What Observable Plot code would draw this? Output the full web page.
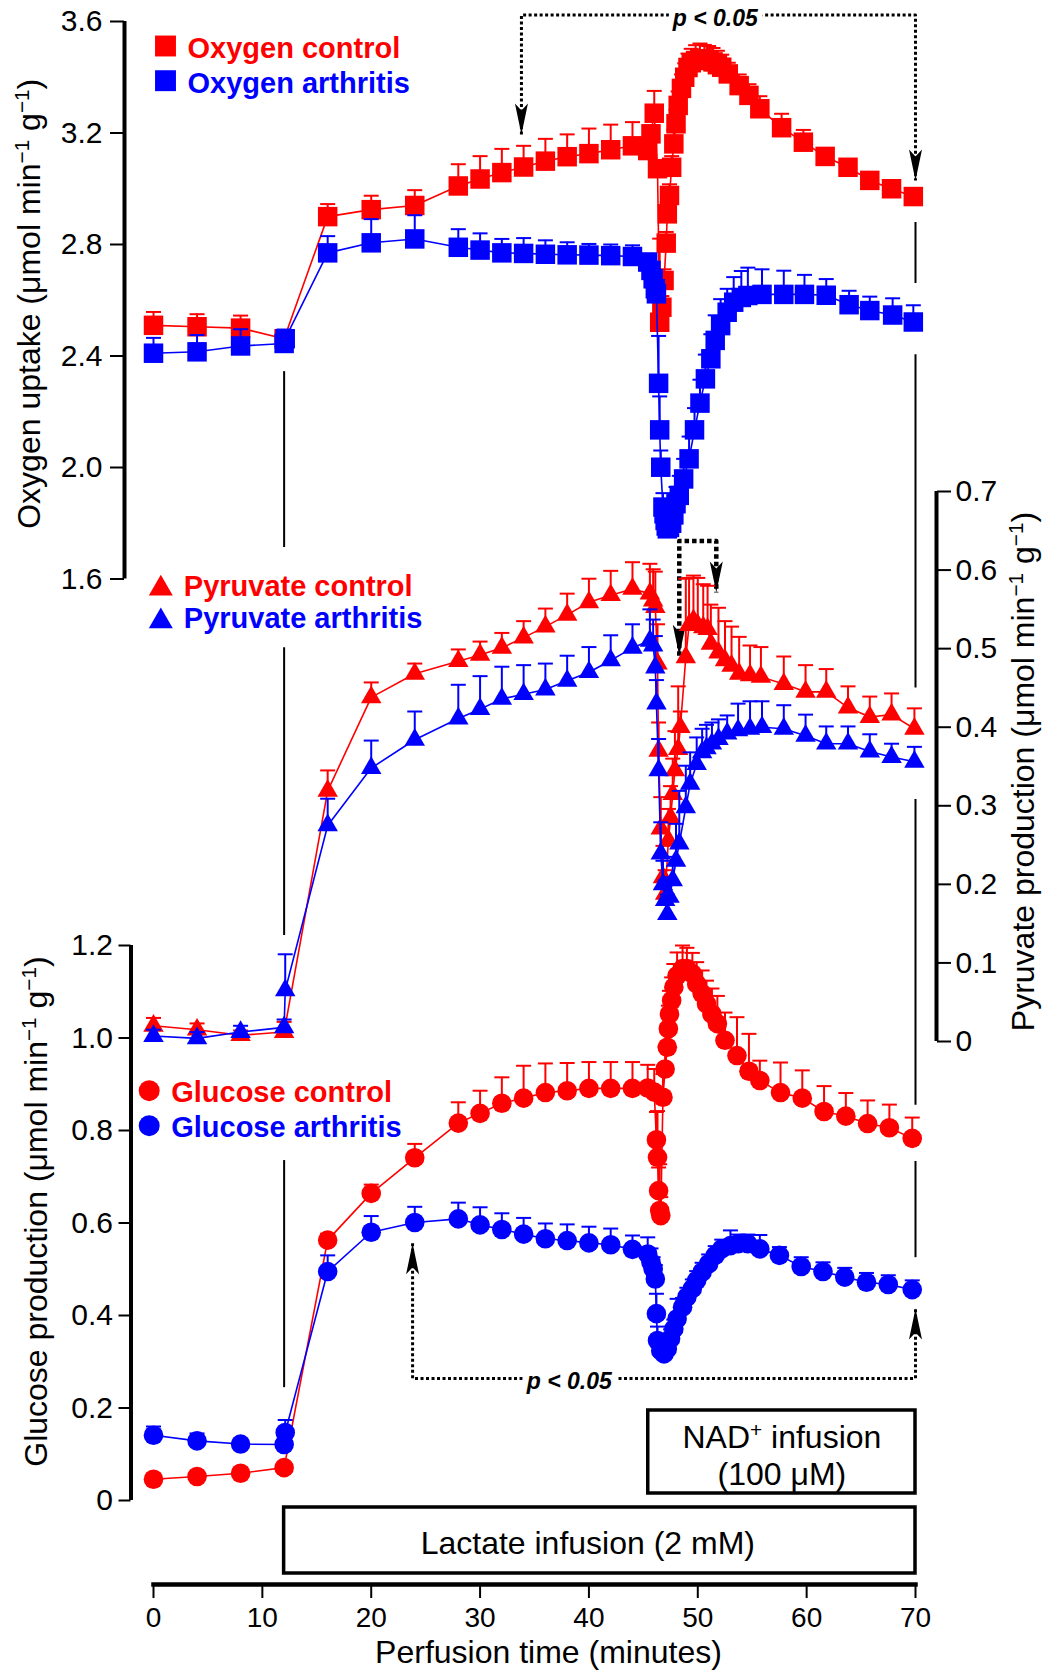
<!DOCTYPE html>
<html>
<head>
<meta charset="utf-8">
<script src="https://cdn.jsdelivr.net/npm/d3@7"></script>
<script src="https://cdn.jsdelivr.net/npm/@observablehq/plot@0.6"></script>
<style>
  html, body { margin: 0; padding: 0; background: #fff; }
  #chart { position: relative; width: 1042px; height: 1670px; overflow: hidden; background: #fff; }
  #chart svg { position: absolute; left: 0; top: 0; overflow: visible; }
</style>
</head>
<body>
<div id="chart"></div>
<script>
// ---------------- DATA ----------------
// Oxygen uptake (µmol min^-1 g^-1)
const o2ControlTime = [0,4,8,12,16,20,24,28,30,32,34,36,38,40,42,44,45.4,45.7,46.0,46.3,46.5,46.7,46.9,47.1,47.2,47.4,47.6,47.8,48.0,48.2,48.5,48.8,49.1,49.4,49.8,50.2,50.6,51.0,51.4,51.8,52.2,52.8,53.8,54.7,55.7,57.7,59.7,61.7,63.8,65.8,67.8,69.8];
const o2ControlValue = [2.510,2.505,2.500,2.462,2.900,2.925,2.940,3.010,3.035,3.058,3.078,3.099,3.115,3.126,3.140,3.154,3.137,3.197,3.271,3.072,2.521,2.575,2.671,2.805,2.910,2.976,3.077,3.161,3.233,3.299,3.360,3.400,3.435,3.452,3.460,3.466,3.466,3.462,3.455,3.445,3.436,3.412,3.370,3.335,3.287,3.219,3.167,3.116,3.077,3.030,3.000,2.972];
const o2ControlErr = [0.048,0.045,0.045,0.03,0.045,0.05,0.055,0.078,0.082,0.085,0.076,0.08,0.08,0.09,0.09,0.085,0.03,0.03,0.08,0.03,0.30,0.04,0.04,0.04,0.04,0.04,0.04,0.05,0.05,0.05,0.05,0.05,0.05,0.05,0.055,0.055,0.05,0.05,0.05,0.05,0.045,0.04,0.04,0.04,0.045,0.05,0.044,0.02,0.015,0.01,0.01,0.01];

const o2ArthritisTime = [0,4,8,12,12.1,16,20,24,28,30,32,34,36,38,40,42,44,45.4,45.7,45.9,46.1,46.2,46.4,46.5,46.6,46.8,46.9,47.0,47.1,47.2,47.4,47.6,47.8,48.0,48.3,48.7,49.2,49.7,50.2,50.7,51.2,51.6,52.1,52.7,53.3,54.0,54.6,55.9,57.9,59.8,61.8,63.9,65.8,67.9,69.8];
const o2ArthritisValue = [2.410,2.415,2.436,2.445,2.462,2.770,2.806,2.820,2.790,2.780,2.770,2.768,2.765,2.763,2.762,2.760,2.757,2.737,2.707,2.677,2.641,2.623,2.302,2.135,2.001,1.858,1.834,1.810,1.790,1.780,1.785,1.800,1.830,1.870,1.900,1.959,2.031,2.135,2.231,2.318,2.390,2.456,2.509,2.557,2.593,2.610,2.617,2.621,2.621,2.621,2.618,2.584,2.563,2.547,2.522];
const o2ArthritisErr = [0.055,0.06,0.06,0.05,0.03,0.06,0.085,0.085,0.065,0.06,0.05,0.055,0.05,0.045,0.04,0.04,0.04,0.03,0.03,0.03,0.03,0.04,0.17,0.12,0.06,0.05,0.04,0.04,0.04,0.04,0.04,0.04,0.05,0.06,0.07,0.072,0.08,0.078,0.084,0.087,0.088,0.09,0.095,0.084,0.09,0.095,0.1,0.09,0.085,0.07,0.058,0.05,0.05,0.06,0.06];

// Pyruvate production (µmol min^-1 g^-1)
const pyrControlTime = [0,4,8,12,16,20,24,28,30,32,34,36,38,40,42,44,45.6,45.9,46.1,46.3,46.4,46.6,46.8,47.0,47.3,47.5,47.7,47.9,48.2,48.4,48.9,49.2,49.6,50.0,50.5,50.9,51.2,51.9,52.5,53.1,53.8,54.8,55.8,57.9,59.9,61.8,63.8,65.8,67.8,69.9];
const pyrControlValue = [0.020,0.015,0.008,0.012,0.319,0.438,0.468,0.484,0.492,0.501,0.514,0.528,0.543,0.559,0.568,0.576,0.570,0.561,0.553,0.481,0.370,0.271,0.209,0.188,0.256,0.285,0.315,0.345,0.372,0.400,0.489,0.530,0.536,0.530,0.527,0.525,0.506,0.495,0.485,0.478,0.468,0.466,0.464,0.455,0.445,0.445,0.425,0.413,0.416,0.398];
const pyrControlErr = [0.01,0.008,0.006,0.013,0.026,0.019,0.013,0.015,0.017,0.019,0.021,0.023,0.027,0.030,0.031,0.034,0.038,0.04,0.045,0.05,0.036,0.04,0.04,0.03,0.04,0.04,0.045,0.05,0.08,0.02,0.10,0.06,0.057,0.06,0.055,0.055,0.05,0.057,0.05,0.05,0.047,0.038,0.038,0.035,0.034,0.029,0.027,0.026,0.027,0.026];

const pyrArthritisTime = [0,4,8,12,12.1,16,20,24,28,30,32,34,36,38,40,42,44,45.6,45.9,46.1,46.2,46.4,46.6,46.8,47.0,47.2,47.4,47.7,48.0,48.3,48.9,49.3,49.9,50.4,50.8,51.3,51.9,52.7,53.7,54.8,55.9,57.9,59.9,61.8,63.8,65.8,67.8,69.9];
const pyrArthritisValue = [0.007,0.004,0.012,0.018,0.065,0.275,0.348,0.384,0.411,0.423,0.436,0.442,0.448,0.459,0.470,0.485,0.501,0.510,0.504,0.476,0.430,0.345,0.239,0.200,0.180,0.162,0.184,0.205,0.230,0.252,0.298,0.328,0.353,0.368,0.373,0.379,0.385,0.392,0.396,0.398,0.400,0.398,0.389,0.379,0.379,0.369,0.362,0.356];
const pyrArthritisErr = [0.008,0.008,0.008,0.01,0.046,0.034,0.035,0.036,0.043,0.042,0.041,0.037,0.033,0.032,0.032,0.032,0.030,0.04,0.033,0.04,0.03,0.04,0.04,0.03,0.025,0.025,0.025,0.03,0.047,0.067,0.053,0.04,0.034,0.03,0.03,0.027,0.025,0.023,0.034,0.035,0.033,0.03,0.027,0.022,0.022,0.022,0.017,0.019];

// Glucose production (µmol min^-1 g^-1)
const gluControlTime = [0,4,8,12,16,20,24,28,30,32,34,36,38,40,42,44,45.4,46.0,46.2,46.3,46.4,46.5,46.6,46.8,47.0,47.2,47.3,47.4,47.6,47.8,48.1,48.6,49.0,49.5,49.9,50.4,50.8,51.3,51.8,52.5,53.6,54.7,55.7,57.6,59.6,61.6,63.6,65.6,67.6,69.7];
const gluControlValue = [0.046,0.052,0.059,0.071,0.563,0.664,0.741,0.816,0.837,0.859,0.870,0.882,0.886,0.891,0.891,0.891,0.892,0.883,0.780,0.742,0.670,0.627,0.616,0.872,0.933,0.980,1.020,1.052,1.081,1.110,1.135,1.150,1.150,1.139,1.117,1.096,1.074,1.052,1.031,0.995,0.962,0.928,0.908,0.882,0.870,0.841,0.831,0.815,0.806,0.783];
const gluControlErr = [0.006,0.006,0.006,0.008,0.014,0.019,0.03,0.045,0.049,0.056,0.07,0.063,0.06,0.057,0.057,0.057,0.05,0.05,0.06,0.1,0.05,0.1,0.04,0.05,0.05,0.05,0.05,0.05,0.05,0.05,0.05,0.05,0.045,0.045,0.047,0.05,0.05,0.055,0.06,0.06,0.083,0.081,0.043,0.065,0.06,0.055,0.05,0.05,0.05,0.045];

const gluArthritisTime = [0,4,8,12,12.1,16,20,24,28,30,32,34,36,38,40,42,44,45.4,45.7,45.9,46.1,46.2,46.3,46.6,46.9,47.2,47.5,47.8,48.1,48.6,49.0,49.5,49.9,50.4,51.0,51.6,52.2,53.0,53.7,54.6,55.7,57.5,59.5,61.5,63.5,65.5,67.5,69.7];
const gluArthritisValue = [0.141,0.129,0.122,0.121,0.147,0.495,0.580,0.601,0.609,0.596,0.586,0.576,0.566,0.562,0.557,0.553,0.543,0.533,0.515,0.501,0.479,0.404,0.346,0.324,0.317,0.328,0.350,0.371,0.393,0.418,0.440,0.458,0.476,0.494,0.512,0.530,0.544,0.551,0.555,0.555,0.544,0.530,0.506,0.495,0.483,0.472,0.467,0.456];
const gluArthritisErr = [0.019,0.016,0.01,0.01,0.027,0.035,0.035,0.034,0.035,0.038,0.035,0.035,0.033,0.035,0.035,0.035,0.03,0.036,0.03,0.025,0.03,0.043,0.03,0.02,0.02,0.02,0.02,0.02,0.043,0.02,0.02,0.02,0.02,0.02,0.02,0.02,0.02,0.033,0.02,0.02,0.03,0.018,0.02,0.02,0.02,0.02,0.02,0.02];

// Axes ticks
const xTicks = [0,10,20,30,40,50,60,70];
const o2Ticks = [1.6,2.0,2.4,2.8,3.2,3.6];
const pyrTicks = [0,0.1,0.2,0.3,0.4,0.5,0.6,0.7];
const gluTicks = [0,0.2,0.4,0.6,0.8,1.0,1.2];

// Legend labels
const o2Labels = ["Oxygen control", "Oxygen arthritis"];
const pyrLabels = ["Pyruvate control", "Pyruvate arthritis"];
const gluLabels = ["Glucose control", "Glucose arthritis"];

// Infusion periods (minutes)
const infusionKeys = ["NAD", "Lactate"];
const infusionStart = [45.45, 12];
const infusionEnd = [70, 70];

// Significance brackets (time, panel value); first & last points are arrow tips
const o2BracketTime = [33.8, 33.8, 70, 70];
const o2BracketValue = [3.195, 3.623, 3.623, 3.03];
const pyrBracketTime = [48.3, 48.3, 51.7, 51.7];
const pyrBracketValue = [0.491, 0.637, 0.637, 0.5715];
const gluBracketTime = [23.8, 23.8, 70, 70];
const gluBracketValue = [0.556, 0.264, 0.264, 0.415];

// Guide lines at infusion start / end (time, from, to)
const o2GuideTime = [12, 70];   const o2GuideFrom = [2.344, 2.879];   const o2GuideTo = [1.713, 2.66];
const pyrGuideTime = [12, 70, 70]; const pyrGuideFrom = [0.501, 0.874, 0.308]; const pyrGuideTo = [0.135, 0.45, -0.081];
const gluGuideTime = [12, 70];  const gluGuideFrom = [0.735, 0.733]; const gluGuideTo = [0.244, 0.525];

// ---------------- HELPERS ----------------
const FONT = "'Liberation Sans', Arial, Helvetica, sans-serif";
const RED = "#ff0000", BLUE = "#0000ff";
const ML = 153, MR = 127;
const rows = (t, v, e) => t.map((x, i) => ({t: x, v: v[i], e: e[i]}));
const pts = (t, v) => t.map((x, i) => ({t: x, v: v[i]}));
const guides = (t, a, b) => t.map((x, i) => ({t: x, v1: a[i], v2: b[i]}));

const cap = {draw(c) { c.moveTo(-7.5, 0); c.lineTo(7.5, 0); }};
const arrowDown = {draw(c) { c.moveTo(0, 0); c.lineTo(-6.5, -31); c.lineTo(0, -24); c.lineTo(6.5, -31); c.closePath(); }};
const arrowUp = {draw(c) { c.moveTo(0, 0); c.lineTo(-6.5, 31); c.lineTo(0, 24); c.lineTo(6.5, 31); c.closePath(); }};

function series(data, color, symbol, r) {
  return [
    Plot.line(data, {x: "t", y: "v", stroke: color, strokeWidth: 1.6}),
    Plot.ruleX(data, {x: "t", y1: "v", y2: d => d.v + d.e, stroke: color, strokeWidth: 2}),
    Plot.dot(data, {x: "t", y: d => d.v + d.e, symbol: cap, fill: "none", stroke: color, strokeWidth: 2}),
    Plot.dot(data, {x: "t", y: "v", symbol, r, fill: color, stroke: "none"})
  ];
}

function legend(labels, symbol, r, o) {
  const colors = [RED, BLUE];
  return labels.flatMap((label, i) => [
    Plot.dot([label], {frameAnchor: "top-left", dx: o.sx, dy: o.sy + i * o.gap, symbol, r, fill: colors[i], stroke: "none"}),
    Plot.text([label], {frameAnchor: "top-left", dx: o.tx, dy: o.ty + i * o.gap, fill: colors[i], fontSize: 29, fontWeight: "bold", textAnchor: "start", lineAnchor: "bottom"})
  ]);
}

function bracket(t, v, dash, width, tipSymbol) {
  const data = pts(t, v);
  return [
    Plot.line(data, {x: "t", y: "v", stroke: "black", strokeWidth: width, strokeDasharray: dash, strokeLinecap: "butt"}),
    Plot.dot([data[0], data[data.length - 1]], {x: "t", y: "v", symbol: tipSymbol, fill: "black", stroke: "none"})
  ];
}

function guideMarks(data) {
  return Plot.ruleX(data, {x: "t", y1: "v1", y2: "v2", stroke: "black", strokeWidth: 2});
}

function panel(yDomain, marginTop, marginBottom, marks) {
  return Plot.plot({
    width: 1042, height: 1670,
    marginLeft: ML, marginRight: MR, marginTop, marginBottom,
    x: {domain: [0, 70], axis: null},
    y: {domain: yDomain},
    style: {background: "transparent", overflow: "visible", fontFamily: FONT, color: "black"},
    marks
  });
}

const pStyle = {fontSize: 23, fontWeight: "bold", fontStyle: "italic", fill: "black", stroke: "white", strokeWidth: 12, paintOrder: "stroke", lineAnchor: "middle"};

// ---------------- OXYGEN PANEL ----------------
const oxygen = panel([1.6, 3.6], 21, 1091.5, [
  guideMarks(guides(o2GuideTime, o2GuideFrom, o2GuideTo)),
  ...bracket(o2BracketTime, o2BracketValue, "3,2.5", 3, arrowDown),
  Plot.text([{t: 51.6, v: 3.623, s: "p < 0.05"}], {x: "t", y: "v", text: "s", dy: 4, ...pStyle}),
  Plot.ruleX([0], {y1: 1.6, y2: 3.6, dx: -29, stroke: "black", strokeWidth: 4}),
  Plot.axisY({ticks: o2Ticks, tickFormat: d => d.toFixed(1), anchor: "left", dx: -29, tickSize: 14, tickPadding: 8, fontSize: 30, strokeWidth: 2, label: null}),
  ...series(rows(o2ControlTime, o2ControlValue, o2ControlErr), RED, "square", 11),
  ...series(rows(o2ArthritisTime, o2ArthritisValue, o2ArthritisErr), BLUE, "square", 11),
  ...legend(o2Labels, "square", 11.8, {sx: 12, sy: 24.5, tx: 34, ty: 36.5, gap: 34.7}),
  Plot.text(["Oxygen uptake (μmol min^{−1} g^{−1})"], {frameAnchor: "left", rotate: -90, dx: -114, dy: 3.5, fontSize: 32, lineAnchor: "bottom", textAnchor: "middle"})
]);

// ---------------- PYRUVATE PANEL ----------------
const pyruvate = panel([0, 0.7], 491, 629, [
  guideMarks(guides(pyrGuideTime, pyrGuideFrom, pyrGuideTo)),
  ...bracket(pyrBracketTime, pyrBracketValue, "4.5,3", 4.5, arrowDown),
  Plot.ruleX([70], {y1: 0, y2: 0.7, dx: 21, stroke: "black", strokeWidth: 4}),
  Plot.axisY({ticks: pyrTicks, tickFormat: d => d === 0 ? "0" : d.toFixed(1), anchor: "right", dx: 21, tickSize: 14, tickPadding: 5, fontSize: 30, strokeWidth: 2, label: null}),
  ...series(rows(pyrControlTime, pyrControlValue, pyrControlErr), RED, "triangle", 7.6),
  ...series(rows(pyrArthritisTime, pyrArthritisValue, pyrArthritisErr), BLUE, "triangle", 7.6),
  ...legend(pyrLabels, "triangle", 8.9, {sx: 7.3, sy: 97, tx: 30.3, ty: 104, gap: 32.8}),
  Plot.text(["Pyruvate production (μmol min^{−1} g^{−1})"], {frameAnchor: "right", rotate: -90, dx: 118, dy: 5, fontSize: 32, lineAnchor: "bottom", textAnchor: "middle"})
]);

// ---------------- GLUCOSE PANEL ----------------
const glucose = panel([0, 1.2], 945, 170, [
  guideMarks(guides(gluGuideTime, gluGuideFrom, gluGuideTo)),
  ...bracket(gluBracketTime, gluBracketValue, "3,2.5", 3, arrowUp),
  Plot.text([{t: 38.2, v: 0.264, s: "p < 0.05"}], {x: "t", y: "v", text: "s", dy: 3, ...pStyle}),
  Plot.ruleX([0], {y1: 0, y2: 1.2, dx: -22.5, stroke: "black", strokeWidth: 4}),
  Plot.axisY({ticks: gluTicks, tickFormat: d => d === 0 ? "0" : d.toFixed(1), anchor: "left", dx: -22.5, tickSize: 12, tickPadding: 6, fontSize: 30, strokeWidth: 2, label: null}),
  ...series(rows(gluControlTime, gluControlValue, gluControlErr), RED, "circle", 9.8),
  ...series(rows(gluArthritisTime, gluArthritisValue, gluArthritisErr), BLUE, "circle", 9.8),
  ...legend(gluLabels, "circle", 10.5, {sx: -4.3, sy: 145.2, tx: 17.7, ty: 156, gap: 35}),
  Plot.text(["Glucose production (μmol min^{−1} g^{−1})"], {frameAnchor: "left", rotate: -90, dx: -107, dy: -11.5, fontSize: 32, lineAnchor: "bottom", textAnchor: "middle"})
]);

// ---------------- TIME AXIS & INFUSION BOXES ----------------
const infusions = infusionKeys.map((k, i) => ({key: k, start: infusionStart[i], end: infusionEnd[i], mid: (infusionStart[i] + infusionEnd[i]) / 2}));
const nad = infusions.filter(d => d.key === "NAD");
const lac = infusions.filter(d => d.key === "Lactate");
const timeline = Plot.plot({
  width: 1042, height: 1670,
  marginLeft: ML, marginRight: MR, marginTop: 1400, marginBottom: 86,
  x: {domain: [0, 70]},
  y: {type: "band", domain: infusionKeys, range: [1410, 1576], paddingInner: 0, paddingOuter: 0, axis: null},
  style: {background: "transparent", overflow: "visible", fontFamily: FONT, color: "black"},
  marks: [
    Plot.barX(nad, {x1: "start", x2: "end", y: "key", fill: "white", stroke: "black", strokeWidth: 3.5}),
    Plot.barX(lac, {x1: "start", x2: "end", y: "key", insetTop: 14, insetBottom: 3, fill: "white", stroke: "black", strokeWidth: 3.5}),
    Plot.text(nad, {x: "mid", y: "key", text: () => "NAD^{+} infusion", dy: -4.5, fontSize: 32, lineAnchor: "bottom"}),
    Plot.text(nad, {x: "mid", y: "key", text: () => "(100 μM)", dy: 32.5, fontSize: 32, lineAnchor: "bottom"}),
    Plot.text(lac, {x: "mid", y: "key", text: () => "Lactate infusion (2 mM)", dx: -12, dy: 18.5, fontSize: 32, lineAnchor: "bottom"}),
    Plot.frame({anchor: "bottom", stroke: "black", strokeWidth: 4.5}),
    Plot.axisX({ticks: xTicks, anchor: "bottom", tickSize: 14, tickPadding: 9, fontSize: 28, strokeWidth: 2, label: null}),
    Plot.text(["Perfusion time (minutes)"], {frameAnchor: "bottom", dx: 14, dy: 78, fontSize: 32, lineAnchor: "bottom"})
  ]
});

const chart = document.getElementById("chart");
for (const svg of [timeline, glucose, pyruvate, oxygen]) chart.appendChild(svg);

// superscripts written as ^{...}
chart.querySelectorAll("text").forEach(t => {
  const s = t.textContent;
  if (!s.includes("^{")) return;
  const parts = s.split(/(\^\{[^}]*\})/);
  t.textContent = "";
  for (const p of parts) {
    if (!p) continue;
    const ts = document.createElementNS("http://www.w3.org/2000/svg", "tspan");
    if (p.startsWith("^{")) {
      ts.textContent = p.slice(2, -1);
      ts.setAttribute("baseline-shift", "super");
      ts.setAttribute("font-size", "65%");
    } else ts.textContent = p;
    t.appendChild(ts);
  }
});
</script>
</body>
</html>
